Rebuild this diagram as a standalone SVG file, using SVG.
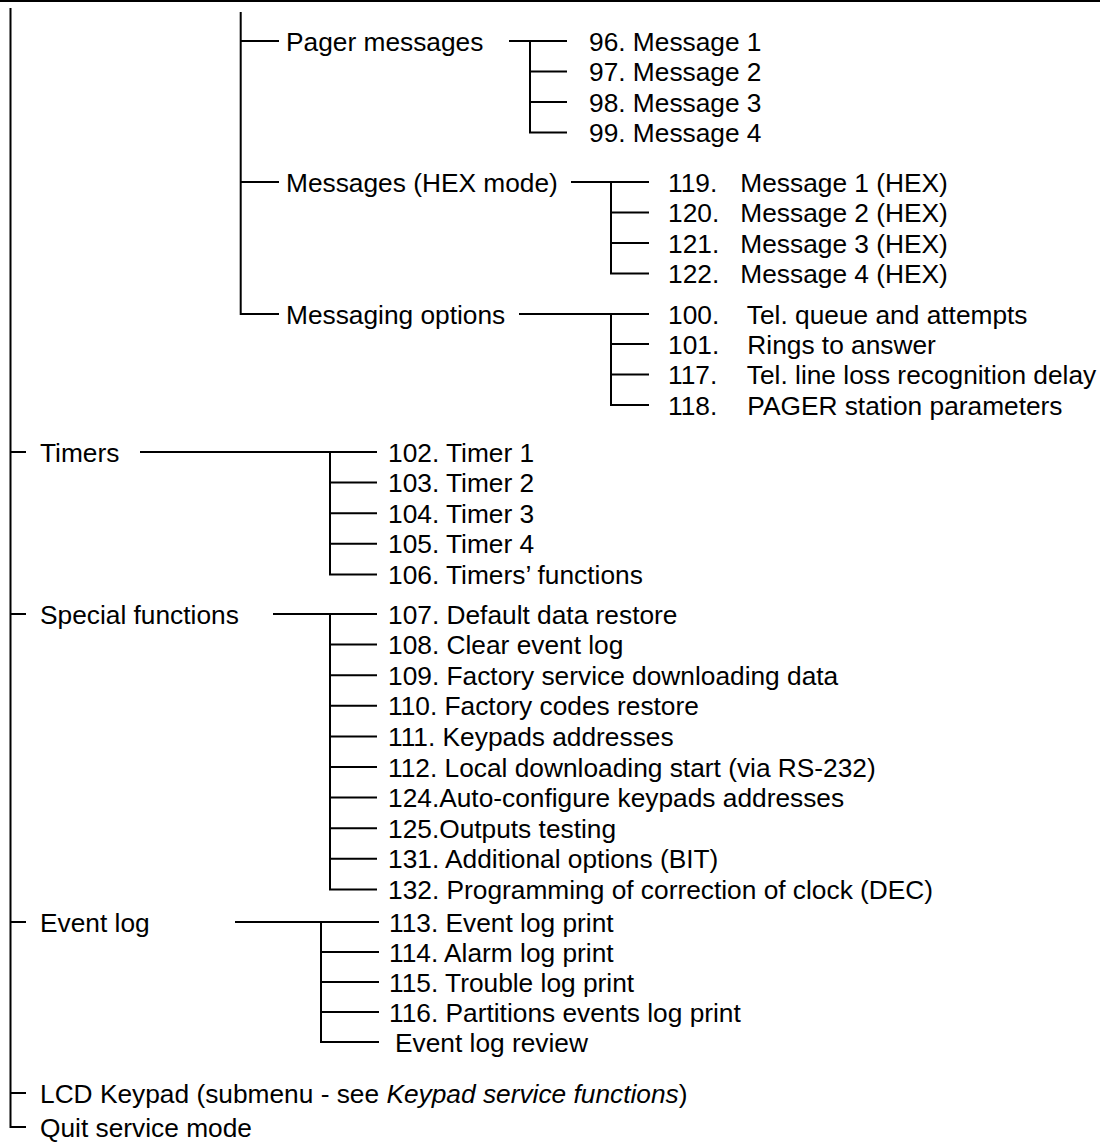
<svg xmlns="http://www.w3.org/2000/svg" width="1100" height="1147" viewBox="0 0 1100 1147">
<style>
text{font-family:"Liberation Sans",Arial,sans-serif;font-size:26.3px;fill:#000}
.c{stroke:#000;stroke-width:2;fill:none}
.it{font-style:italic}
</style>
<rect x="0" y="0" width="1100" height="1147" fill="#fff"/>
<g id="connectors" class="c">
<path d="M0 1H1100"/>
<path d="M10.5 8V1127H26"/>
<path d="M10.5 452H26M10.5 614H26M10.5 922H26M10.5 1093H26"/>
<path d="M240.7 12V314H279M240.7 41H279M240.7 182H279"/>
<path d="M509 41H567M530 41V132.5H567M530 71.5H567M530 102H567"/>
<path d="M571 182H649M611 182V273.5H649M611 212.5H649M611 243H649"/>
<path d="M519 314H649M611 314V405H649M611 344H649M611 374.5H649"/>
<path d="M140 452H377M330 452V574.4H377M330 482.6H377M330 513.2H377M330 543.8H377"/>
<path d="M273 614H377M330 614V889.4H377M330 644.6H377M330 675.2H377M330 705.8H377M330 736.4H377M330 767H377M330 797.6H377M330 828.2H377M330 858.8H377"/>
<path d="M235 922H379M321 922V1042H379M321 952H379M321 982H379M321 1012H379"/>
</g>
<g id="n-pager"><text x="286" y="50.5">Pager messages</text></g>
<g id="n-96"><text x="589" y="50.5">96. Message 1</text></g>
<g id="n-97"><text x="589" y="81">97. Message 2</text></g>
<g id="n-98"><text x="589" y="111.5">98. Message 3</text></g>
<g id="n-99"><text x="589" y="142">99. Message 4</text></g>
<g id="n-hex"><text x="286" y="191.5">Messages (HEX mode)</text></g>
<g id="n-119"><text x="668" y="191.5">119.<tspan x="733"> Message 1 (HEX)</tspan></text></g>
<g id="n-120"><text x="668" y="222">120.<tspan x="733"> Message 2 (HEX)</tspan></text></g>
<g id="n-121"><text x="668" y="252.5">121.<tspan x="733"> Message 3 (HEX)</tspan></text></g>
<g id="n-122"><text x="668" y="283">122.<tspan x="733"> Message 4 (HEX)</tspan></text></g>
<g id="n-msgopt"><text x="286" y="323.5">Messaging options</text></g>
<g id="n-100"><text x="668" y="323.5">100.<tspan x="740"> Tel. queue and attempts</tspan></text></g>
<g id="n-101"><text x="668" y="353.5">101.<tspan x="740"> Rings to answer</tspan></text></g>
<g id="n-117"><text x="668" y="384">117.<tspan x="740"> Tel. line loss recognition delay</tspan></text></g>
<g id="n-118"><text x="668" y="414.5">118.<tspan x="740"> PAGER station parameters</tspan></text></g>
<g id="n-timers"><text x="40" y="461.5">Timers</text></g>
<g id="n-102"><text x="388" y="461.5">102. Timer 1</text></g>
<g id="n-103"><text x="388" y="492.1">103. Timer 2</text></g>
<g id="n-104"><text x="388" y="522.7">104. Timer 3</text></g>
<g id="n-105"><text x="388" y="553.3">105. Timer 4</text></g>
<g id="n-106"><text x="388" y="583.9">106. Timers’ functions</text></g>
<g id="n-special"><text x="40" y="623.5">Special functions</text></g>
<g id="n-107"><text x="388" y="623.5">107. Default data restore</text></g>
<g id="n-108"><text x="388" y="654.1">108. Clear event log</text></g>
<g id="n-109"><text x="388" y="684.7">109. Factory service downloading data</text></g>
<g id="n-110"><text x="388" y="715.3">110. Factory codes restore</text></g>
<g id="n-111"><text x="388" y="745.9">111. Keypads addresses</text></g>
<g id="n-112"><text x="388" y="776.5">112. Local downloading start (via RS-232)</text></g>
<g id="n-124"><text x="388" y="807.1">124.Auto-configure keypads addresses</text></g>
<g id="n-125"><text x="388" y="837.7">125.Outputs testing</text></g>
<g id="n-131"><text x="388" y="868.3">131. Additional options (BIT)</text></g>
<g id="n-132"><text x="388" y="898.9">132. Programming of correction of clock (DEC)</text></g>
<g id="n-eventlog"><text x="40" y="931.5">Event log</text></g>
<g id="n-113"><text x="389" y="931.5">113. Event log print</text></g>
<g id="n-114"><text x="389" y="961.5">114. Alarm log print</text></g>
<g id="n-115"><text x="389" y="991.5">115. Trouble log print</text></g>
<g id="n-116"><text x="389" y="1021.5">116. Partitions events log print</text></g>
<g id="n-review"><text x="395" y="1051.5">Event log review</text></g>
<g id="n-lcd"><text x="40" y="1102.5">LCD Keypad (submenu - see <tspan class="it">Keypad service functions</tspan>)</text></g>
<g id="n-quit"><text x="40" y="1136.5">Quit service mode</text></g>
</svg>
